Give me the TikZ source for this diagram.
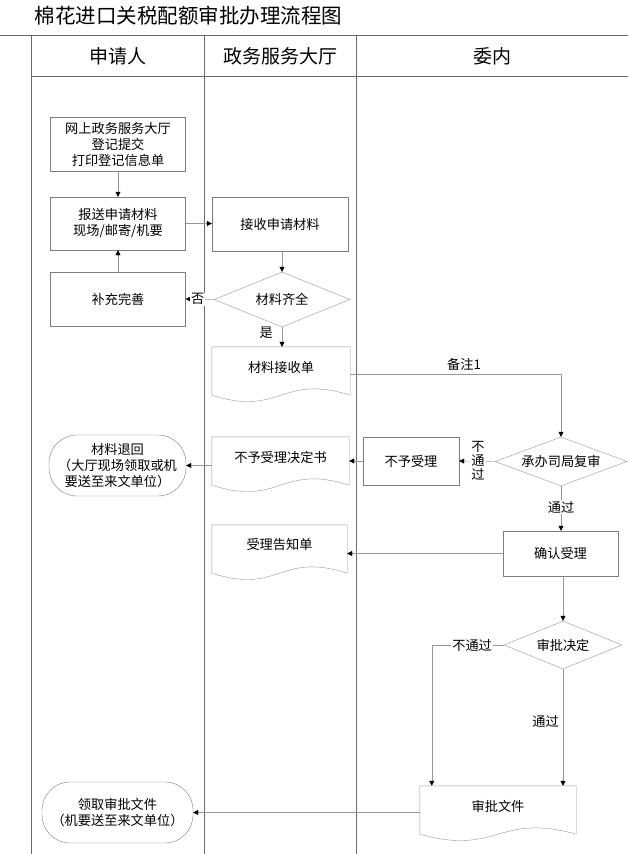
\documentclass[tikz,border=0pt]{standalone}
\usepackage{fontspec}
\setmainfont{Noto Sans CJK SC}
\usetikzlibrary{shapes.geometric, arrows.meta, positioning, calc}

\definecolor{lanegray}{RGB}{105,105,105}
\definecolor{boxgray}{RGB}{125,125,125}
\definecolor{diagray}{RGB}{150,150,150}
\definecolor{linegray}{RGB}{150,150,150}

% document shape with wavy bottom edge
\newcommand{\docwave}[1]{%
  \draw[draw=diagray] (#1.north west) -- (#1.north east) -- ($(#1.south east)+(0,8)$)
    .. controls ($(#1.south)+(0,-14)$) and ($(#1.south)+(0,30)$) .. ($(#1.south west)+(0,8)$) -- cycle;}

\begin{document}
\begin{tikzpicture}[
  x=1pt, y=-1pt,
  every node/.style={font=\fontsize{13.2}{16}\selectfont},
  lanehead/.style={font=\fontsize{19}{22}\selectfont},
  proc/.style={rectangle, draw=boxgray, align=center, inner sep=2pt},
  dec/.style={diamond, draw=diagray, aspect=2.4, inner sep=0pt, align=center},
  doc/.style={rectangle, align=center, inner sep=2pt, minimum height=40pt},
  term/.style={rectangle, rounded corners=28pt, draw=boxgray, align=center, inner sep=2pt},
  arr/.style={-{Triangle[length=5pt, width=5pt, color=black]}, draw=linegray},
  lbl/.style={fill=white, inner sep=1pt}
]
\useasboundingbox (0,0) rectangle (628,854);

% ---- TITLE AND LANES ----
\node[anchor=west, font=\fontsize{20.5}{24}\selectfont] (title) at (31,16) {棉花进口关税配额审批办理流程图};
\draw[lanegray] (0,35) -- (628,35);
\draw[lanegray] (31,76.5) -- (628,76.5);
\draw[lanegray] (31,35) -- (31,854);
\draw[lanegray] (204,35) -- (204,854);
\draw[lanegray] (356,35) -- (356,854);
\node[lanehead] (hApp) at (117.5,56) {申请人};
\node[lanehead] (hHall) at (280,56) {政务服务大厅};
\node[lanehead] (hCom) at (492,56) {委内};

% ---- APPLICANT ----
\node[proc, minimum width=135pt, minimum height=54pt] (reg) at (118,144) {网上政务服务大厅\\登记提交\\打印登记信息单};
\node[proc, minimum width=135pt, minimum height=53pt] (send) at (118,223.5) {报送申请材料\\现场/邮寄/机要};
\node[proc, minimum width=135pt, minimum height=54pt] (supp) at (118,299) {补充完善};
\node[term, minimum width=137pt, minimum height=61pt] (back) at (117.5,465.5) {材料退回\\（大厅现场领取或机\\要送至来文单位）};
\node[term, minimum width=151pt, minimum height=61pt] (fetch) at (117.5,812.5) {领取审批文件\\（机要送至来文单位）};

% ---- SERVICE HALL ----
\node[proc, minimum width=136pt, minimum height=54pt] (recv) at (280,224) {接收申请材料};
\node[dec, minimum width=136pt, minimum height=55pt] (chk) at (282,299.5) {材料齐全};
\node[doc, minimum width=138pt] (paper) at (281,367) {材料接收单};
\node[doc, minimum width=137pt] (refdoc) at (280.5,457) {不予受理决定书};
\node[doc, minimum width=135pt] (notice) at (279.5,545) {受理告知单};
\docwave{paper}
\docwave{refdoc}
\docwave{notice}

% ---- COMMISSION ----
\node[dec, minimum width=132pt, minimum height=49pt] (review) at (561,461.5) {承办司局复审};
\node[proc, minimum width=96pt, minimum height=48pt] (reject) at (411,461) {不予受理};
\node[proc, minimum width=115pt, minimum height=45pt] (accept) at (560.5,553.5) {确认受理};
\node[dec, minimum width=118pt, minimum height=48pt] (decide) at (563,645) {审批决定};
\node[doc, minimum width=156pt] (appdoc) at (498,806) {审批文件};
\docwave{appdoc}

% ---- CONNECTIONS ----
\draw[arr] (reg) -- (send);
\draw[arr] (supp) -- (send);
\draw[arr] (send.east) -- (send.east -| recv.west);
\draw[arr] (chk.north |- recv.south) -- (chk.north);
\draw[arr] (chk.west) -- node[lbl, pos=0.57] {否} (supp.east);
\draw[arr] (chk.south) -- node[left, pos=0.3, inner sep=9pt] {是} (chk.south |- paper.north);
\draw[arr] ($(paper.east)+(0,7)$) -| node[above, pos=0.27] {备注1} (review.north);
\draw[arr] (review.west) -- node[lbl, pos=0.47, align=center, font=\fontsize{13.2}{14}\selectfont] {不\\通\\过} (reject.east);
\draw[arr] (reject.west) -- (reject.west -| refdoc.east);
\draw[arr] (back.east -| refdoc.west) -- (back.east);
\draw[arr] (review.south) -- node[lbl, pos=0.47] {通过} (review.south |- accept.north);
\draw[arr] (accept.west) -- (accept.west -| notice.east);
\draw[arr] (decide.north |- accept.south) -- (decide.north);
\draw[arr] (decide.west) -| node[lbl, pos=0.22] {不通过} ($(appdoc.north west)+(12,0)$);
\draw[arr] (decide.south) -- node[left, pos=0.45, inner sep=4pt] {通过} (decide.south |- appdoc.north);
\draw[arr] (fetch.east -| appdoc.west) -- (fetch.east);
\end{tikzpicture}
\end{document}
